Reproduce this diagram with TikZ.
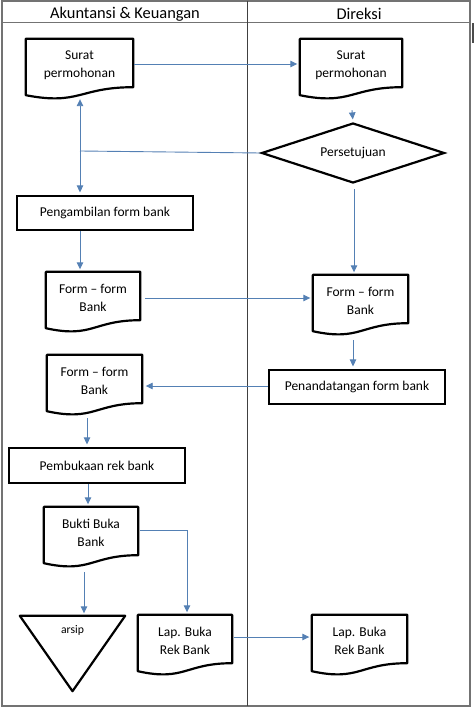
\documentclass[tikz,border=0pt]{standalone}
\usepackage{fontspec}
\setmainfont{Carlito}
\usetikzlibrary{arrows.meta,shapes.geometric,calc}
\definecolor{arrblue}{RGB}{84,128,180}
\definecolor{framegray}{RGB}{115,115,115}
\newcommand\docoutline[1]{\draw[docline] ($(#1.north west)+(0,-4)$) -- ($(#1.north east)+(0,-4)$) -- (#1.south east) .. controls (#1.south) and ($(#1.south)+(0,18.4)$) .. ($(#1.south west)+(0,8)$) -- cycle;}
\begin{document}
\begin{tikzpicture}[x=1pt,y=-1pt,
  txt/.style={font=\fontsize{13.5}{18}\selectfont},
  doc/.style={txt,draw=none,minimum height=44pt,inner sep=0pt,align=center},
  docline/.style={draw=black,line width=2.2pt,line join=round},
  box/.style={txt,draw=black,line width=2.2pt,inner sep=0pt,minimum width=176pt,minimum height=34pt,align=center},
  dia/.style={txt,diamond,draw=black,line width=2.2pt,minimum width=183pt,minimum height=60pt,inner sep=0pt,aspect=3},
  arr/.style={draw=arrblue,line width=0.9pt,-{Triangle[length=7pt,width=6.5pt]},shorten >=2.5pt},
  arrtwo/.style={draw=arrblue,line width=0.9pt,{Triangle[length=7pt,width=6.5pt]}-{Triangle[length=7pt,width=6.5pt]},shorten >=2.5pt},
  plain/.style={draw=arrblue,line width=0.9pt},
  head/.style={font=\fontsize{16.4}{20}\selectfont}]
\useasboundingbox (0,0) rectangle (474,711);
% frame
\draw[framegray,line width=1.5pt] (2,1) rectangle (470,706);
\draw[framegray,line width=1.5pt] (2,22.5) -- (470,22.5);
\draw[black!75,line width=0.9pt] (247,1) -- (247,706);
\fill[black!70] (472,23) rectangle (474,43);
\node[head] (h1) at (125,14) {Akuntansi \& Keuangan};
\node[head] (h2) at (359,14) {Direksi};
% nodes
\node[doc,minimum width=107pt] (s1) at (79.5,65) {Surat\\permohonan};
\node[doc,minimum width=102pt] (s2) at (351,65) {Surat\\permohonan};
\node[dia] (dia) at (353,153) {Persetujuan};
\node[box] (peng) at (105,213) {Pengambilan form bank};
\node[doc,minimum width=94pt] (f1) at (93,298) {Form – form\\Bank};
\node[doc,minimum width=95pt] (f2) at (360.5,301) {Form – form\\Bank};
\node[box] (pen) at (357,387) {Penandatangan form bank};
\node[doc,minimum width=95pt] (f3) at (94.5,381) {Form – form\\Bank};
\node[box,minimum height=35pt] (pem) at (97,465.5) {Pembukaan rek bank};
\node[doc,minimum width=94pt] (bukti) at (91,533) {Bukti Buka\\Bank};
\node[draw=none,minimum width=105pt,minimum height=75pt,inner sep=0pt] (arsip) at (72.5,653.5) {};
\node[font=\fontsize{11.7}{14}\selectfont] (arsiplbl) at ($(arsip.north)+(0,15)$) {arsip};
\node[doc,minimum width=94pt] (lap1) at (185,641) {Lap. Buka\\Rek Bank};
\node[doc,minimum width=95pt] (lap2) at (359.5,641) {Lap. Buka\\Rek Bank};
% outlines
\docoutline{s1}
\docoutline{s2}
\docoutline{f1}
\docoutline{f2}
\docoutline{f3}
\docoutline{bukti}
\docoutline{lap1}
\docoutline{lap2}
\draw[docline] (arsip.north west) -- (arsip.north east) -- (arsip.south) -- cycle;
% connectors
\draw[arr] ($(s1.east)+(1,-1)$) -- ($(s2.west)+(0,-1)$);
\draw[arr] ($(s2.south)+(1,23)$) -- (dia.north);
\draw[plain] (dia.west) -- ($(dia.west -| s1.south)+(0.5,-2)$);
\draw[arrtwo] ($(s1.south)+(0.5,12)$) -- ($(s1.south |- peng.north)+(0.5,0)$);
\draw[arr] ($(s1.south |- peng.south)+(0.5,0)$) -- ($(s1.south |- f1.north)+(0.5,-4)$);
\draw[plain] ($(dia.south)+(1,5)$) -- ($(dia.south)+(1,75)$);
\draw[arr] ($(dia.south)+(1,75)$) -- ($(dia.south |- f2.north)+(1,-4)$);
\draw[arr] ($(f1.east)+(5,0)$) -- ($(f2.west)+(0,-3)$);
\draw[arr] ($(f2.south)+(-7.5,17)$) -- ($(f2.south |- pen.north)+(-7.5,0)$);
\draw[arr] ($(pen.west)+(0,-1)$) -- ($(pen.west -| f3.east)+(1,-1)$);
\draw[arr] ($(f3.south)+(-7.5,15)$) -- ($(f3.south |- pem.north)+(-7.5,0)$);
\draw[arr] ($(pem.south)+(-9,0)$) -- ($(pem.south |- bukti.north)+(-9,-4)$);
\draw[arr] ($(bukti.east)+(2,-3)$) -| ($(lap1.north)+(2,-4)$);
\draw[arr] ($(bukti.south)+(-7,17)$) -- ($(bukti.south |- arsip.north)+(-7,0)$);
\draw[arr] ($(lap1.east)+(2,-4)$) -- ($(lap2.west)+(0,-4)$);
\end{tikzpicture}
\end{document}
